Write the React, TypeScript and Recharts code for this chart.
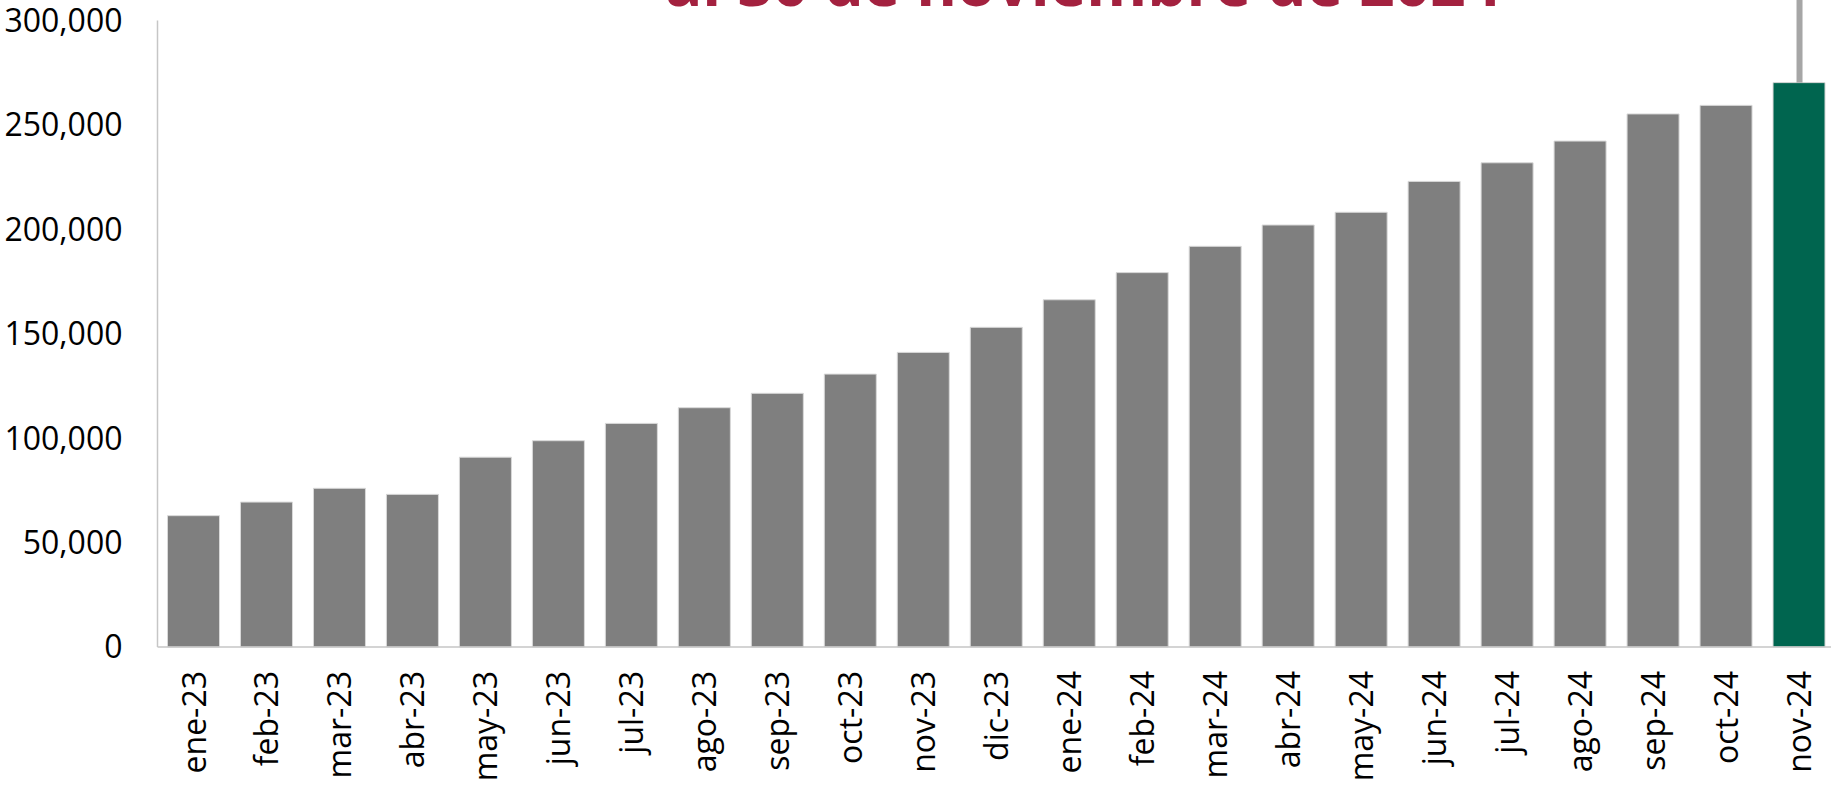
import React from 'react';
import { BarChart, Bar, XAxis, YAxis, Cell, ReferenceLine } from 'recharts';

const categories = [
  'ene-23', 'feb-23', 'mar-23', 'abr-23', 'may-23', 'jun-23', 'jul-23', 'ago-23',
  'sep-23', 'oct-23', 'nov-23', 'dic-23', 'ene-24', 'feb-24', 'mar-24', 'abr-24',
  'may-24', 'jun-24', 'jul-24', 'ago-24', 'sep-24', 'oct-24', 'nov-24',
];
const values = [
  62900, 69400, 76000, 73100, 90900, 98800, 107100, 114600,
  121500, 130700, 141100, 153100, 166300, 179300, 191900, 202100,
  208200, 223000, 231900, 242300, 255300, 259400, 270300,
];
const yTicks = [0, 50000, 100000, 150000, 200000, 250000, 300000];
const highlightCategory = 'nov-24';
const leaderTop = 310000;
const titleText = 'al 30 de noviembre de 2024';

const data = categories.map((c, i) => ({ mes: c, valor: values[i] }));

const fmt = (v: number) => v.toLocaleString('en-US');

const FONT = "'Open Sans', sans-serif";

const XTick = (props: any) => {
  const { x, y, payload } = props;
  return (
    <text
      x={x}
      y={y}
      transform={`rotate(-90, ${x}, ${y})`}
      textAnchor="end"
      dy="0.36em"
      fill="#000"
      fontSize={32}
      fontFamily={FONT}
    >
      {payload.value}
    </text>
  );
};

export default function App() {
  return (
    <div
      style={{
        position: 'fixed',
        top: 0,
        left: 0,
        width: 1831,
        height: 786,
        overflow: 'hidden',
        background: '#fff',
      }}
    >
      <BarChart
        width={1836}
        height={786}
        data={data}
        margin={{ top: 20.6, right: 0, bottom: 0, left: 0 }}
        barSize={52}
      >
        <YAxis
          width={157.5}
          domain={[0, 300000]}
          ticks={yTicks}
          tickFormatter={fmt}
          tickLine={false}
          tickSize={0}
          tickMargin={35}
          axisLine={{ stroke: '#c6c6c6', strokeWidth: 1.5 }}
          tick={{ fill: '#000', fontSize: 32, fontFamily: FONT }}
          interval={0}
        />
        <XAxis
          dataKey="mes"
          height={139}
          interval={0}
          tickLine={false}
          tickSize={0}
          tickMargin={24}
          axisLine={{ stroke: '#c6c6c6', strokeWidth: 1.5 }}
          tick={<XTick />}
        />
        <Bar dataKey="valor" isAnimationActive={false} stroke="#d9d9d9" strokeWidth={1}>
          {data.map((d) => (
            <Cell key={d.mes} fill={d.mes === highlightCategory ? '#00654F' : '#7f7f7f'} />
          ))}
        </Bar>
        <ReferenceLine
          segment={[
            { x: highlightCategory, y: values[values.length - 1] },
            { x: highlightCategory, y: leaderTop },
          ]}
          stroke="#a6a6a6"
          strokeWidth={6}
          ifOverflow="visible"
        />
      </BarChart>
      <svg
        width={1831}
        height={786}
        style={{ position: 'absolute', top: 0, left: 0, pointerEvents: 'none' }}
      >
        <text
          x={1083}
          y={6}
          textAnchor="middle"
          fill="#A3213F"
          fontSize={62}
          fontWeight="bold"
          fontFamily={FONT}
        >
          {titleText}
        </text>
      </svg>
    </div>
  );
}
